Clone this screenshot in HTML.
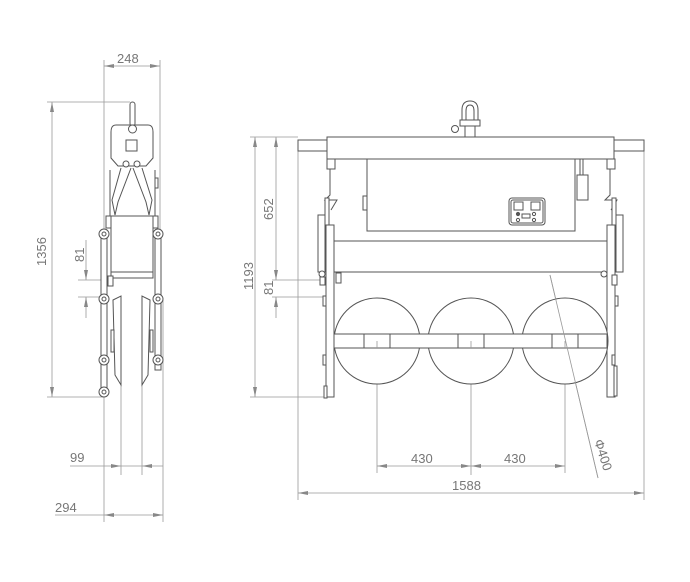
<!DOCTYPE html>
<html><head><meta charset="utf-8"><style>
html,body{margin:0;padding:0;background:#fff}
svg{display:block}
text{font-family:"Liberation Sans",sans-serif;fill:#777;font-size:13px}
</style></head><body>
<svg width="690" height="582" viewBox="0 0 690 582" xmlns="http://www.w3.org/2000/svg">
<defs>
<marker id="a" viewBox="0 0 10 4" refX="10" refY="2" markerWidth="10" markerHeight="4" orient="auto-start-reverse" markerUnits="userSpaceOnUse"><path d="M0,0L10,2L0,4z" fill="#888"/></marker>
</defs>
<g stroke="#999" stroke-width="0.8" fill="none">
  <line x1="104" y1="60" x2="104" y2="522"/>
  <line x1="160" y1="60" x2="160" y2="230"/>
  <line x1="104" y1="66" x2="160" y2="66" marker-start="url(#a)" marker-end="url(#a)"/>
  <line x1="47" y1="102" x2="130" y2="102"/>
  <line x1="47" y1="397" x2="104" y2="397"/>
  <line x1="52" y1="102" x2="52" y2="397" marker-start="url(#a)" marker-end="url(#a)"/>
  <line x1="78" y1="280" x2="112" y2="280"/>
  <line x1="78" y1="297" x2="104" y2="297"/>
  <line x1="86" y1="240" x2="86" y2="280" marker-end="url(#a)"/>
  <line x1="86" y1="297" x2="86" y2="318" marker-start="url(#a)"/>
  <line x1="121" y1="300" x2="121" y2="475"/>
  <line x1="142" y1="300" x2="142" y2="475"/>
  <line x1="163" y1="300" x2="163" y2="522"/>
  <line x1="70" y1="466" x2="121" y2="466" marker-end="url(#a)"/>
  <line x1="121" y1="466" x2="142" y2="466"/>
  <line x1="142" y1="466" x2="163" y2="466" marker-start="url(#a)"/>
  <line x1="55" y1="515" x2="104" y2="515"/>
  <line x1="104" y1="515" x2="163" y2="515" marker-start="url(#a)" marker-end="url(#a)"/>
  <line x1="250" y1="137" x2="298" y2="137"/>
  <line x1="250" y1="397" x2="328" y2="397"/>
  <line x1="255" y1="137" x2="255" y2="397" marker-start="url(#a)" marker-end="url(#a)"/>
  <line x1="276" y1="137" x2="276" y2="280" marker-start="url(#a)" marker-end="url(#a)"/>
  <line x1="272" y1="280" x2="326" y2="280"/>
  <line x1="272" y1="297" x2="326" y2="297"/>
  <line x1="276" y1="297" x2="276" y2="318" marker-start="url(#a)"/>
  <line x1="298" y1="140" x2="298" y2="500"/>
  <line x1="644" y1="140" x2="644" y2="500"/>
  <line x1="298" y1="493" x2="644" y2="493" marker-start="url(#a)" marker-end="url(#a)"/>
  <line x1="377" y1="341" x2="377" y2="473"/>
  <line x1="471" y1="341" x2="471" y2="475"/>
  <line x1="565" y1="341" x2="565" y2="473"/>
  <line x1="377" y1="466" x2="471" y2="466" marker-start="url(#a)" marker-end="url(#a)"/>
  <line x1="471" y1="466" x2="565" y2="466" marker-start="url(#a)" marker-end="url(#a)"/>
  <line x1="550" y1="275" x2="598" y2="478"/>
</g>
<text x="117" y="63">248</text>
<text transform="translate(46,266) rotate(-90)">1356</text>
<text transform="translate(84,262) rotate(-90)">81</text>
<text x="70" y="462">99</text>
<text x="55" y="512">294</text>
<text transform="translate(253,290) rotate(-90)">1193</text>
<text transform="translate(273,220) rotate(-90)">652</text>
<text transform="translate(273,295) rotate(-90)">81</text>
<text x="411" y="463">430</text>
<text x="504" y="463">430</text>
<text x="452" y="490">1588</text>
<text transform="translate(594,441) rotate(72)">Φ400</text>
<g stroke="#555" stroke-width="1" fill="#fff">
  <rect x="130" y="102" width="5" height="24" rx="2.5"/>
  <path d="M116,125 H148 Q153,125 153,132 V158 L146,166 H118 L111,158 V132 Q111,125 116,125z"/>
  <circle cx="132.5" cy="129" r="4"/>
  <rect x="126" y="140" width="11" height="11"/>
  <circle cx="126" cy="164" r="3"/><circle cx="137" cy="164" r="3"/>
  <path d="M121,168 L112,200 L115,215 L118,202 L131,168" fill="none"/>
  <path d="M133,168 L146,202 L149,215 L152,200 L142,168" fill="none"/>
  <line x1="110" y1="170" x2="110" y2="216"/><line x1="155" y1="170" x2="155" y2="216"/>
  <rect x="155" y="178" width="3" height="10"/>
  <rect x="111" y="216" width="42" height="62"/>
  <line x1="111" y1="272" x2="153" y2="272"/>
  <rect x="108" y="276" width="5" height="10"/>
  <rect x="101" y="232" width="6" height="163"/>
  <rect x="155" y="232" width="6" height="138"/>
  <rect x="106" y="216" width="5" height="12"/><rect x="153" y="216" width="5" height="12"/>
  <path d="M113,300 L121,296 V385 L115,375z"/>
  <path d="M150,300 L142,296 V385 L148,375z"/>
  <rect x="111" y="330" width="3" height="22"/><rect x="150" y="330" width="3" height="22"/>
  <circle cx="104" cy="234" r="5"/><circle cx="104" cy="299" r="5"/><circle cx="104" cy="360" r="5"/><circle cx="104" cy="392" r="5"/>
  <circle cx="158" cy="234" r="5"/><circle cx="158" cy="299" r="5"/><circle cx="158" cy="360" r="5"/>
  <g fill="none"><circle cx="104" cy="234" r="2"/><circle cx="104" cy="299" r="2"/><circle cx="104" cy="360" r="2"/><circle cx="104" cy="392" r="2"/>
   <circle cx="158" cy="234" r="2"/><circle cx="158" cy="299" r="2"/><circle cx="158" cy="360" r="2"/></g>
</g>
<g stroke="#555" stroke-width="1" fill="#fff">
  <path d="M462,123 V110 Q462,101 470,101 Q478,101 478,110 V123 M466,123 V111 Q466,105 470,105 Q474,105 474,111 V123" fill="none"/>
  <circle cx="455" cy="129" r="3.5"/>
  <rect x="460" y="120" width="20" height="6"/>
  <rect x="465" y="126" width="10" height="11"/>
  <rect x="298" y="140" width="29" height="11"/>
  <rect x="614" y="140" width="30" height="11"/>
  <rect x="327" y="137" width="287" height="22"/>
  <rect x="367" y="159" width="208" height="72"/>
  <rect x="363" y="196" width="4" height="14"/>
  <line x1="580" y1="159" x2="580" y2="175"/><line x1="583" y1="159" x2="583" y2="175"/>
  <rect x="577" y="175" width="11" height="25"/>
  <rect x="509" y="198" width="36" height="27" rx="3"/>
  <rect x="511" y="200" width="32" height="23" rx="2"/>
  <rect x="514" y="202" width="9" height="8"/><rect x="531" y="202" width="9" height="8"/>
  <rect x="522" y="214" width="8" height="4"/>
  <circle cx="518" cy="214" r="1.6" fill="#555"/><circle cx="534" cy="214" r="1.6"/>
  <circle cx="518" cy="220" r="1.6"/><circle cx="534" cy="220" r="1.6"/>
  <rect x="334" y="241" width="273" height="31"/>
  <rect x="327" y="159" width="8" height="10"/>
  <path d="M330,169 V195 L325,200 H337 L331,210" fill="none"/>
  <rect x="325" y="198" width="4" height="72"/>
  <rect x="318" y="215" width="7" height="57"/>
  <rect x="326" y="225" width="8" height="172"/>
  <circle cx="322" cy="274" r="3"/><rect x="320" y="277" width="5" height="8"/>
  <rect x="336" y="273" width="5" height="10"/>
  <rect x="323" y="296" width="3" height="10"/><rect x="323" y="355" width="3" height="10"/><rect x="324" y="386" width="3" height="12"/>
  <rect x="607" y="159" width="8" height="10"/>
  <path d="M610,169 V195 L605,200 H617 L611,210" fill="none"/>
  <rect x="612" y="198" width="4" height="72"/>
  <rect x="616" y="215" width="7" height="57"/>
  <rect x="607" y="225" width="8" height="172"/>
  <circle cx="604" cy="274" r="3"/><rect x="612" y="275" width="5" height="10"/>
  <rect x="615" y="296" width="3" height="10"/><rect x="612" y="355" width="3" height="10"/><rect x="614" y="366" width="3" height="30"/>
  <circle cx="377" cy="341" r="43"/>
  <circle cx="471" cy="341" r="43"/>
  <circle cx="565" cy="341" r="43"/>
  <rect x="334" y="334" width="273" height="14"/>
  <rect x="364" y="334" width="26" height="14"/>
  <rect x="458" y="334" width="26" height="14"/>
  <rect x="552" y="334" width="26" height="14"/>
</g>
<g stroke="#999" stroke-width="0.8" fill="none">
  <line x1="377" y1="341" x2="377" y2="348"/><line x1="471" y1="341" x2="471" y2="348"/><line x1="565" y1="341" x2="565" y2="348"/>
  <line x1="550" y1="275" x2="598" y2="478"/>
</g>
</svg>
</body></html>
